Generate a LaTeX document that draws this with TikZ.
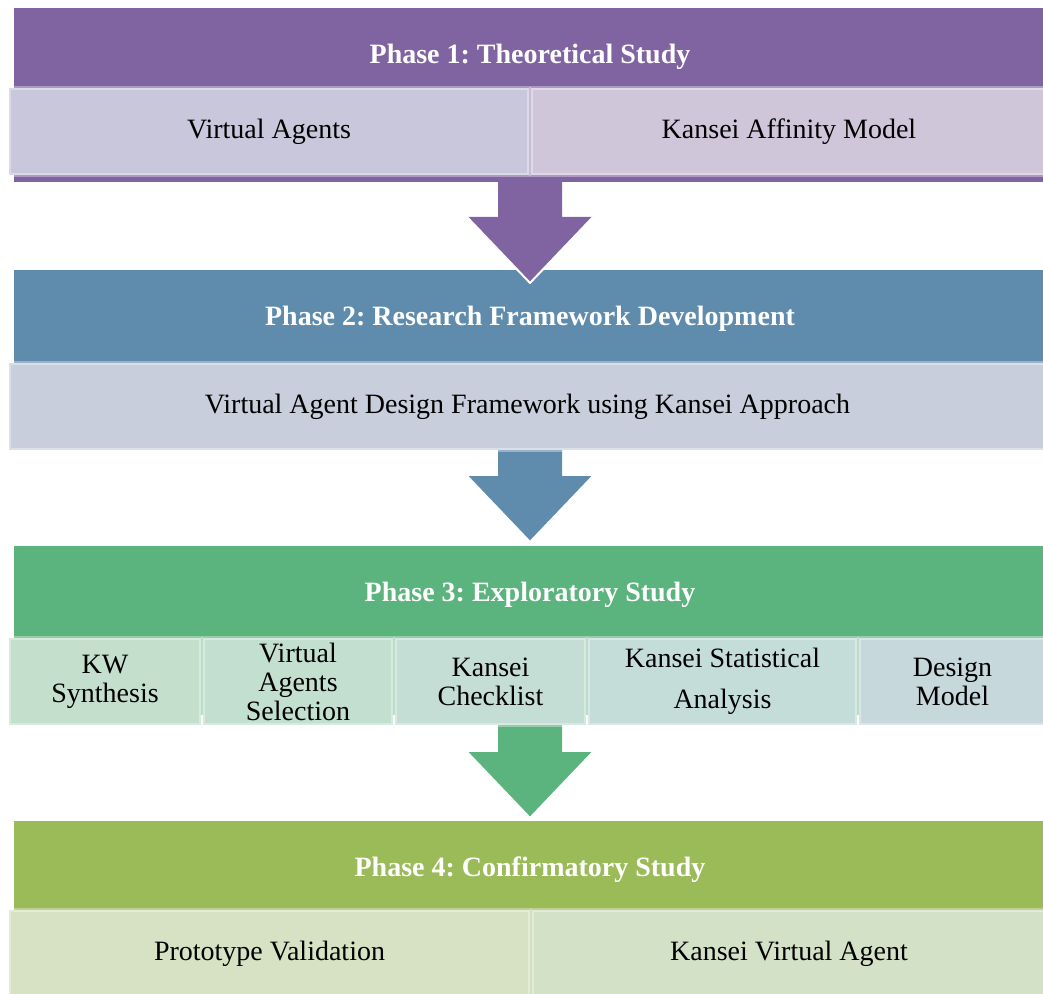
\documentclass[tikz,border=0pt]{standalone}
\usepackage{fontspec}
\setmainfont{Liberation Serif}
\frenchspacing
\usetikzlibrary{positioning,calc}
\definecolor{phA}{HTML}{8064A2}
\definecolor{phB}{HTML}{5F8BAD}
\definecolor{phC}{HTML}{5BB37D}
\definecolor{phD}{HTML}{9BBB59}
\definecolor{sA1}{HTML}{C9C7DB}
\definecolor{sA2}{HTML}{CFC6DA}
\definecolor{sB}{HTML}{C8CEDC}
\definecolor{sC1}{HTML}{C4DFCB}
\definecolor{sC2}{HTML}{C3DFD0}
\definecolor{sC3}{HTML}{C4DED5}
\definecolor{sC4}{HTML}{C5DDD9}
\definecolor{sC5}{HTML}{C7D8DC}
\definecolor{sD1}{HTML}{D6E2C3}
\definecolor{sD2}{HTML}{D3E1C6}
\tikzset{
  phbar/.style={anchor=north west, inner sep=0pt, outer sep=0pt, minimum width=516pt},
  subbox/.style={anchor=north west, inner sep=0pt, outer sep=0pt, minimum height=43.5pt,
    align=center, draw=white, draw opacity=0.35, line width=2pt},
  phtitle/.style={text=white, font=\fontsize{14}{14.5}\selectfont\bfseries},
}
\begin{document}
\begin{tikzpicture}[x=0.5pt,y=-0.5pt, line join=round, font=\fontsize{14}{14.5}\selectfont]
\useasboundingbox (0,0) rectangle (1043,994);
% phase bars
\node[phbar, fill=phA, minimum height=87pt] (ph1) at (14,8) {};
\node[phbar, fill=phB, minimum height=87.5pt] (ph2) at (14,270) {};
\node[phbar, fill=phC, minimum height=84.5pt] (ph3) at (14,546) {};
\node[phbar, fill=phD, minimum height=87.5pt] (ph4) at (14,821) {};
\foreach \p/\t in {ph1/Phase 1: Theoretical Study, ph2/Phase 2: Research Framework Development,
  ph3/Phase 3: Exploratory Study, ph4/Phase 4: Confirmatory Study}
  \node[phtitle] (\p-t) at ($(\p.north)+(0,49)$) {\t};
% block arrows
\foreach \a/\b/\c/\o in {ph1/ph2/phA/13, ph2/ph3/phB/-4, ph3/ph4/phC/-3}{
  \fill[\c] let \p1=(\a.south), \p2=($(\b.north)+(0,\o)$) in
    (\x2-16pt,\y1) -- (\x2+16pt,\y1) -- (\x2+16pt,\y2+33pt) -- (\x2+31.5pt,\y2+33pt)
    -- (\x2,\y2) -- (\x2-31.5pt,\y2+33pt) -- (\x2-16pt,\y2+33pt) -- cycle;
  \draw[white, line width=1pt] let \p2=($(\b.north)+(0,\o)$) in
    (\x2-31.5pt,\y2+33pt) -- (\x2,\y2) -- (\x2+31.5pt,\y2+33pt);
}
% phase 1
\node[subbox, fill=sA1, minimum width=260pt] (va) at ($(ph1.north west)+(-5,80)$) {Virtual Agents};
\node[subbox, fill=sA2, minimum width=258pt, right=1pt of va] (kam) {Kansei Affinity Model};
% phase 2
\node[subbox, fill=sB, minimum width=518.5pt] (vadf) at ($(ph2.north west)+(-5,93)$)
  {Virtual Agent Design Framework using Kansei Approach};
% phase 3
\node[subbox, fill=sC1, minimum width=96pt] (kw) at ($(ph3.north west)+(-5,92)$) {KW\\Synthesis};
\node[subbox, fill=sC2, minimum width=95pt, right=1pt of kw] (vas) {Virtual\\Agents\\Selection};
\node[subbox, fill=sC3, minimum width=95.5pt, right=1pt of vas] (kc) {Kansei\\Checklist};
\node[subbox, fill=sC4, minimum width=134.5pt, right=1pt of kc] (ksa) {Kansei Statistical\\[6pt]Analysis};
\node[subbox, fill=sC5, minimum width=93.5pt, right=1pt of ksa] (dm) {Design\\Model};
% phase 4
\node[subbox, fill=sD1, minimum width=260.5pt] (pv) at ($(ph4.north west)+(-5,89)$) {Prototype Validation};
\node[subbox, fill=sD2, minimum width=257pt, right=1pt of pv] (kva) {Kansei Virtual Agent};
\end{tikzpicture}
\end{document}
